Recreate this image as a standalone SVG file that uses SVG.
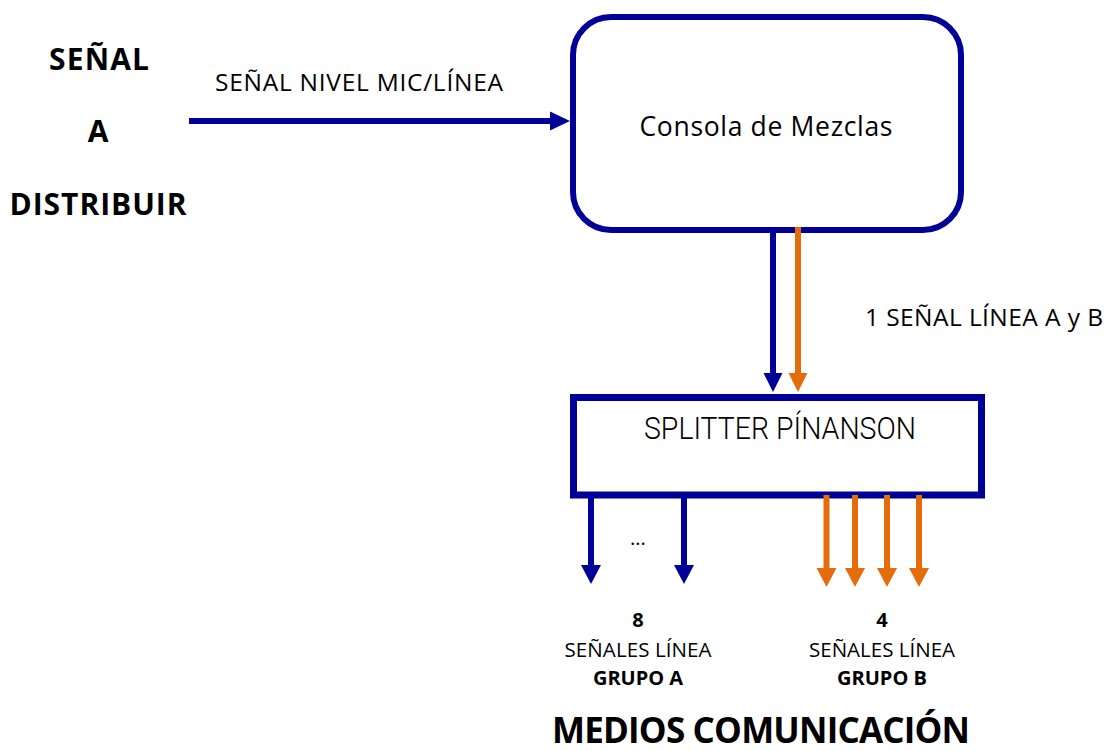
<svg xmlns="http://www.w3.org/2000/svg" width="1105" height="751" viewBox="0 0 1105 751">
<style>
.t{font-family:"Open Sans","Liberation Sans",sans-serif;fill:#000}
.b{font-weight:bold}
.blue{stroke:#000099;stroke-width:6;fill:none}
.orange{stroke:#E46C0A;stroke-width:6;fill:none}
.hb{fill:#000099}
.ho{fill:#E46C0A}
</style>
<rect width="1105" height="751" fill="#fff"/>
<g id="label-left">
<text class="t b" x="99" y="70" font-size="30" text-anchor="middle" textLength="100">SEÑAL</text>
<text class="t b" x="98" y="142" font-size="30" text-anchor="middle">A</text>
<text class="t b" x="98" y="215" font-size="30" text-anchor="middle" textLength="177">DISTRIBUIR</text>
</g>
<g id="consola">
<rect x="573" y="17" width="388" height="213" rx="38" ry="38" fill="#fff" stroke="#000099" stroke-width="6"/>
<text class="t" x="766" y="136" font-size="26.5" text-anchor="middle" textLength="253">Consola de Mezclas</text>
</g>
<g id="splitter">
<rect x="573.5" y="397.5" width="408" height="97.5" fill="#fff" stroke="#000099" stroke-width="7"/>
<text x="780" y="439" font-family="Roboto,'DejaVu Sans',sans-serif" font-weight="300" font-size="31" text-anchor="middle" textLength="272" lengthAdjust="spacingAndGlyphs">SPLITTER PÍNANSON</text>
</g>
<g id="connectors">
<line class="blue" x1="189" y1="121" x2="553" y2="121" stroke-width="5"/>
<polygon class="hb" points="550,111.5 570,121 550,130.5"/>
<line class="blue" x1="773" y1="230" x2="773" y2="375"/>
<polygon class="hb" points="763.5,373 782.5,373 773,392"/>
<line class="orange" x1="798" y1="227" x2="798" y2="375"/>
<polygon class="ho" points="788.5,373 807.5,373 798,392"/>
<line class="blue" x1="591" y1="495" x2="591" y2="568"/>
<polygon class="hb" points="581,565 601,565 591,584"/>
<line class="blue" x1="684" y1="495" x2="684" y2="568"/>
<polygon class="hb" points="674,565 694,565 684,584"/>
<line class="orange" x1="826.5" y1="495" x2="826.5" y2="571"/>
<polygon class="ho" points="816.5,568 836.5,568 826.5,587"/>
<line class="orange" x1="855" y1="495" x2="855" y2="571"/>
<polygon class="ho" points="845,568 865,568 855,587"/>
<line class="orange" x1="887" y1="495" x2="887" y2="571"/>
<polygon class="ho" points="877,568 897,568 887,587"/>
<line class="orange" x1="919" y1="495" x2="919" y2="571"/>
<polygon class="ho" points="909,568 929,568 919,587"/>
</g>
<g id="labels">
<text class="t" x="215" y="91" font-size="24.5" textLength="288">SEÑAL NIVEL MIC/LÍNEA</text>
<text class="t" x="865" y="326" font-size="24.5" textLength="238">1 SEÑAL LÍNEA A y B</text>
<text class="t" x="638" y="545" font-size="20" text-anchor="middle">...</text>
<text class="t b" x="638" y="627" font-size="20" text-anchor="middle">8</text>
<text class="t" x="638" y="657" font-size="20.5" text-anchor="middle" textLength="147">SEÑALES LÍNEA</text>
<text class="t b" x="638" y="685" font-size="20" text-anchor="middle" textLength="90">GRUPO A</text>
<text class="t b" x="882" y="627" font-size="20" text-anchor="middle">4</text>
<text class="t" x="882" y="657" font-size="20.5" text-anchor="middle" textLength="146">SEÑALES LÍNEA</text>
<text class="t b" x="882" y="685" font-size="20" text-anchor="middle" textLength="90">GRUPO B</text>
<text class="t b" x="761" y="743" font-size="35" text-anchor="middle" textLength="418">MEDIOS COMUNICACIÓN</text>
</g>
</svg>
